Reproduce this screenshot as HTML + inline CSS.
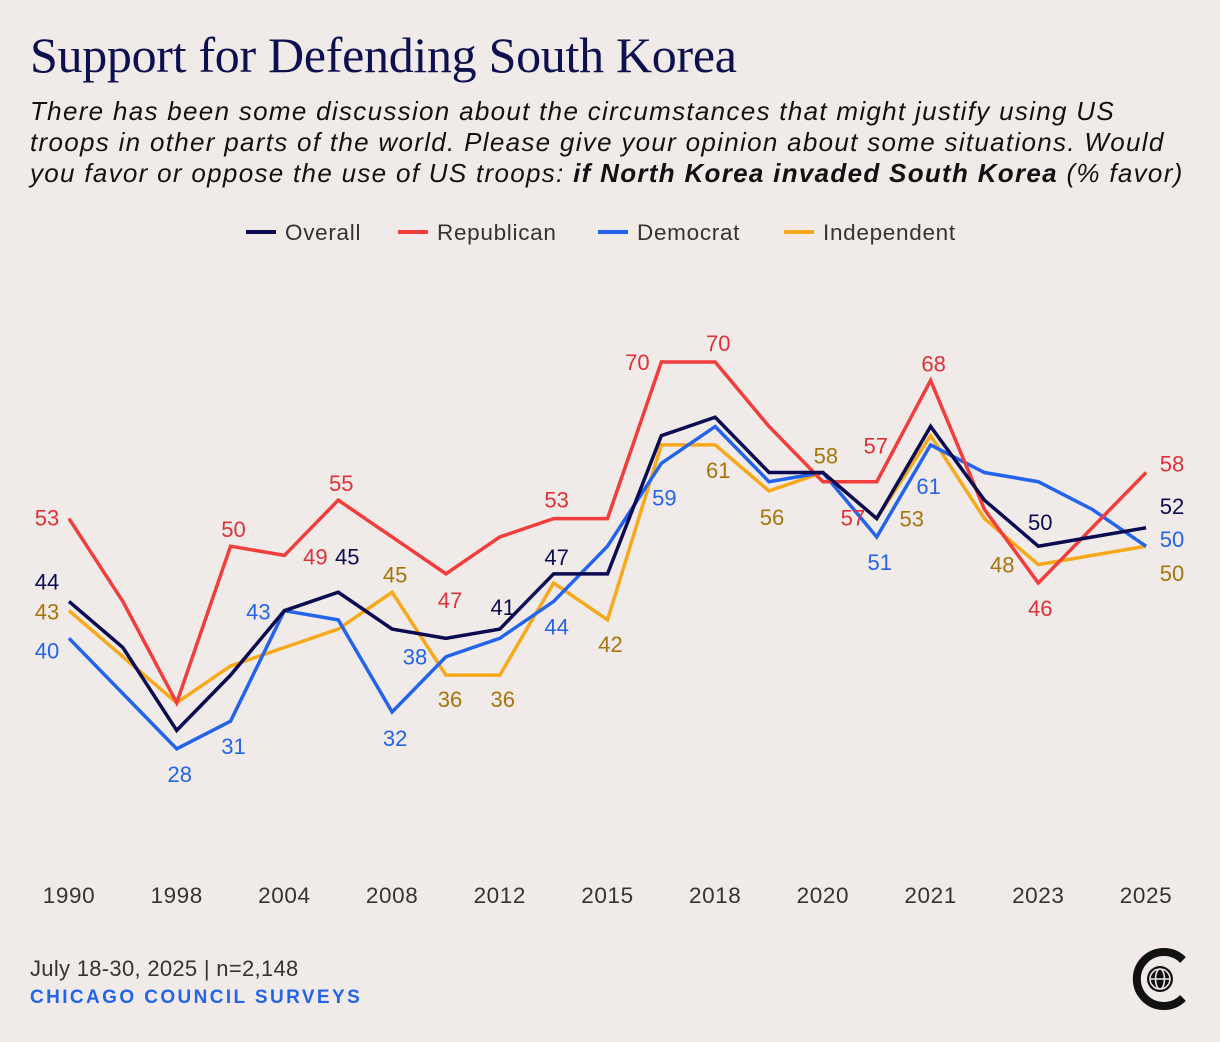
<!DOCTYPE html>
<html><head><meta charset="utf-8">
<style>
body{margin:0;background:#f0ebe8;width:1220px;height:1042px;overflow:hidden;font-family:"Liberation Sans",sans-serif;}
#title{position:absolute;left:30px;top:26px;font-family:"Liberation Serif",serif;font-size:50px;color:#0d0f4f;letter-spacing:-0.3px;white-space:nowrap;}
#sub{position:absolute;left:30px;top:96px;width:1190px;font-style:italic;font-size:26px;line-height:31px;color:#111;white-space:nowrap;letter-spacing:1.3px;}
#foot1{position:absolute;left:30px;top:956px;font-size:22px;color:#333;letter-spacing:0.3px;}
#foot2{position:absolute;left:30px;top:987px;font-size:19px;font-weight:bold;color:#2463eb;letter-spacing:2.4px;}
svg{position:absolute;left:0;top:0;}
</style></head><body>
<div id="title">Support for Defending South Korea</div>
<div id="sub">There has been some discussion about the circumstances that might justify using US<br>troops in other parts of the world. Please give your opinion about some situations. Would<br>you favor or oppose the use of US troops: <b>if North Korea invaded South Korea</b> (% favor)</div>
<div id="foot1">July 18-30, 2025 | n=2,148</div>
<div id="foot2">CHICAGO COUNCIL SURVEYS</div>
<svg id="chart" width="1220" height="1042"></svg>
<script>
const categories=["1990","","1998","","2004","","2008","","2012","","2015","","2018","","2020","","2021","","2023","","2025"];
const seriesNames=["Overall","Republican","Democrat","Independent"];
const overall=[44,39,30,36,43,45,41,40,41,47,47,62,64,58,58,53,63,55,50,51,52];
const republican=[53,44,33,50,49,55,51,47,51,53,53,70,70,63,57,57,68,54,46,52,58];
const democrat=[40,34,28,31,43,42,32,38,40,44,50,59,63,57,58,51,61,58,57,54,50];
const independent=[43,38,33,37,39,41,45,36,36,46,42,61,61,56,58,53,62,53,48,49,50];
const lineColors=["#0b0b52","#f23d3d","#2463eb","#f7a91c"];
const labelColors=["#0b0b52","#e0303a","#2463eb","#a8740c"];
// labels: [series, pointIndex, dx, dy]
const labels=[[0,0,-22,-20],[0,5,9,-36],[0,8,3,-22],[0,9,3,-17],[0,18,2,-24],[0,20,26,-22],
[1,0,-22,-1],[1,3,3,-17],[1,4,31,1],[1,5,3,-17],[1,7,4,26],[1,9,3,-19],[1,11,-24,0],[1,12,3,-19],[1,14,30,36],[1,15,-1,-36],[1,16,3,-17],[1,18,2,25],[1,20,26,-9],
[2,0,-22,12],[2,2,3,25],[2,3,3,25],[2,4,-26,1],[2,7,-31,0],[2,6,3,26],[2,9,3,25],[2,11,3,34],[2,15,3,25],[2,16,-2,41],[2,20,26,-7],
[3,0,-22,1],[3,6,3,-18],[3,7,4,24],[3,8,3,24],[3,10,3,24],[3,12,3,25],[3,13,3,26],[3,14,3,-17],[3,15,35,0],[3,18,-36,0],[3,20,26,27]];
const data=[overall,republican,democrat,independent];
const svg=document.getElementById('chart');
const NS="http://www.w3.org/2000/svg";
const x=i=>69+i*(1146-69)/(categories.length-1);
const y=v=>362+(70-v)*9.21;
function mk(t,a){const e=document.createElementNS(NS,t);for(const k in a)e.setAttribute(k,a[k]);svg.appendChild(e);return e;}
const legX=[246,398,598,784];
seriesNames.forEach((n,s)=>{
 const l=mk('line',{x1:legX[s],x2:legX[s]+30,y1:232,y2:232,stroke:lineColors[s],'stroke-width':4});
 
 
 const t=mk('text',{x:legX[s]+39,y:240,'font-size':22.5,fill:'#333','letter-spacing':'0.7'});
 t.textContent=n;
 
 
});
categories.forEach((c,i)=>{if(!c)return;
 const t=mk('text',{x:x(i),y:903,'font-size':22.5,fill:'#333','text-anchor':'middle','letter-spacing':'0.6'});
 t.textContent=c;
 
 
});
[3,2,1,0].forEach(s=>{
 const p=mk('polyline',{points:data[s].map((v,i)=>x(i)+','+y(v)).join(' '),fill:'none',stroke:lineColors[s],'stroke-width':3.5,'stroke-linejoin':'miter'});
 
 
});
labels.forEach(([s,i,dx,dy])=>{
 const t=mk('text',{x:x(i)+dx,y:y(data[s][i])+dy+8,'font-size':22,fill:labelColors[s],'text-anchor':'middle'});
 t.textContent=data[s][i];
 
 
});
const g=mk('g',{});


g.innerHTML='<path d="M1183,960 A27,27 0 1 0 1183,998" fill="none" stroke="#111" stroke-width="8"/><circle cx="1160" cy="979" r="13" fill="#111"/><circle cx="1160" cy="979" r="10" fill="none" stroke="#f0ebe8" stroke-width="1.5"/><ellipse cx="1160" cy="979" rx="4.5" ry="10" fill="none" stroke="#f0ebe8" stroke-width="1.5"/><line x1="1150" y1="979" x2="1170" y2="979" stroke="#f0ebe8" stroke-width="1.5"/>';
</script>
</body></html>
